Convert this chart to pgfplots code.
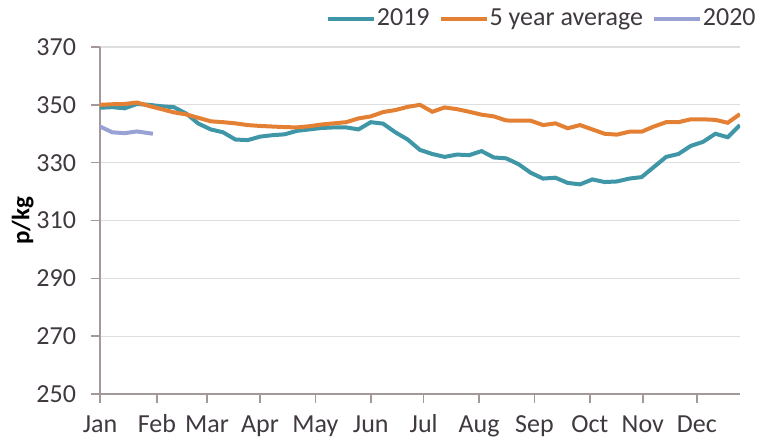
\documentclass[border=0pt]{standalone}
\usepackage{pgfplots}
\pgfplotsset{compat=1.18}
\usepackage{fontspec}
\setmainfont{Carlito}
\definecolor{teal19}{RGB}{62,150,166}
\definecolor{orange5}{RGB}{228,128,52}
\definecolor{lav20}{RGB}{152,162,212}
\definecolor{gridc}{RGB}{222,222,222}
\definecolor{axisc}{RGB}{165,152,152}
\definecolor{txt}{RGB}{64,58,64}
\begin{document}
\begin{tikzpicture}
\begin{axis}[
  name=main,
  scale only axis,
  width=320pt, height=173.5pt,
  xmin=0, xmax=52, ymin=250, ymax=370,
  ytick={250,270,...,370},
  xtick={0,4.63,8.7,13,17.5,22,26.3,30.8,35.3,39.8,44.1,48.5},
  xticklabels={Jan,Feb,Mar,Apr,May,Jun,Jul,Aug,Sep,Oct,Nov,Dec},
  axis x line=bottom, axis y line=left,
  axis line style={-, color=axisc, line width=0.9pt},
  tick align=outside, major tick length=4.5pt,
  tick style={color=axisc, line width=0.8pt},
  ymajorgrids, grid style={color=gridc, line width=0.6pt},
  ticklabel style={font=\fontsize{13}{15}\selectfont, text=txt},
  yticklabel style={xshift=-4pt},
  xticklabel style={anchor=north, text height=0.7em, text depth=0.2em, yshift=-4pt},
  /pgf/number format/assume math mode=true,
  ylabel={\bfseries p/kg},
  ylabel style={font=\fontsize{12.5}{14}\selectfont, text=black, yshift=-5.5pt},
  legend style={at={(rel axis cs:1,1)}, anchor=east, xshift=8.5pt, yshift=14pt,
    draw=none, fill=none, inner sep=0pt, font=\fontsize{13}{15}\selectfont, text=txt,
    nodes={inner xsep=0.5pt},
    /tikz/every odd column/.append style={column sep=0pt},
    /tikz/every even column/.append style={column sep=4pt}},
  legend columns=-1,
  legend image code/.code={\draw[#1] (0pt,0pt) -- (23pt,0pt);},
]
\addplot[teal19, line width=2pt] coordinates {
(0,349)(1,349.2)(2,348.8)(3,350.3)(4,350)(5,349.5)(6,349.2)(7,347)(8,343.5)(9,341.5)
(10,340.5)(11,338)(12,337.8)(13,339)(14,339.5)(15,339.8)(16,341)(17,341.5)(18,342)(19,342.2)
(20,342.2)(21,341.5)(22,344)(23,343.5)(24,340.5)(25,338)(26,334.4)(27,333)(28,332)(29,332.8)
(30,332.6)(31,334)(32,331.8)(33,331.5)(34,329.5)(35,326.5)(36,324.5)(37,324.8)(38,323)(39,322.5)
(40,324.2)(41,323.3)(42,323.5)(43,324.5)(44,325)(45,328.5)(46,332)(47,333)(48,335.8)(49,337.2)
(50,340)(51,338.8)(52,343)};
\addlegendentry{2019}
\addplot[orange5, line width=2pt] coordinates {
(0,350)(1,350.2)(2,350.3)(3,350.8)(4,349.6)(5,348.5)(6,347.4)(7,346.7)(8,345.5)(9,344.3)
(10,344)(11,343.6)(12,343)(13,342.7)(14,342.5)(15,342.3)(16,342.2)(17,342.6)(18,343.2)(19,343.6)
(20,344)(21,345.3)(22,346)(23,347.5)(24,348.2)(25,349.3)(26,350)(27,347.6)(28,349.1)(29,348.5)
(30,347.6)(31,346.6)(32,346)(33,344.6)(34,344.5)(35,344.5)(36,343)(37,343.6)(38,341.9)(39,343)
(40,341.5)(41,340)(42,339.7)(43,340.7)(44,340.7)(45,342.5)(46,344)(47,344)(48,345)(49,345)
(50,344.8)(51,343.8)(52,346.8)};
\addlegendentry{5 year average}
\addplot[lav20, line width=2pt] coordinates {
(0,342.5)(1,340.5)(2,340.2)(3,340.8)(4.3,340)};
\addlegendentry{2020}
\end{axis}
\pgfresetboundingbox
\path[use as bounding box] ([xshift=-50pt,yshift=-23pt]main.south west) rectangle ([xshift=10.5pt,yshift=23.5pt]main.north east);
\end{tikzpicture}
\end{document}
